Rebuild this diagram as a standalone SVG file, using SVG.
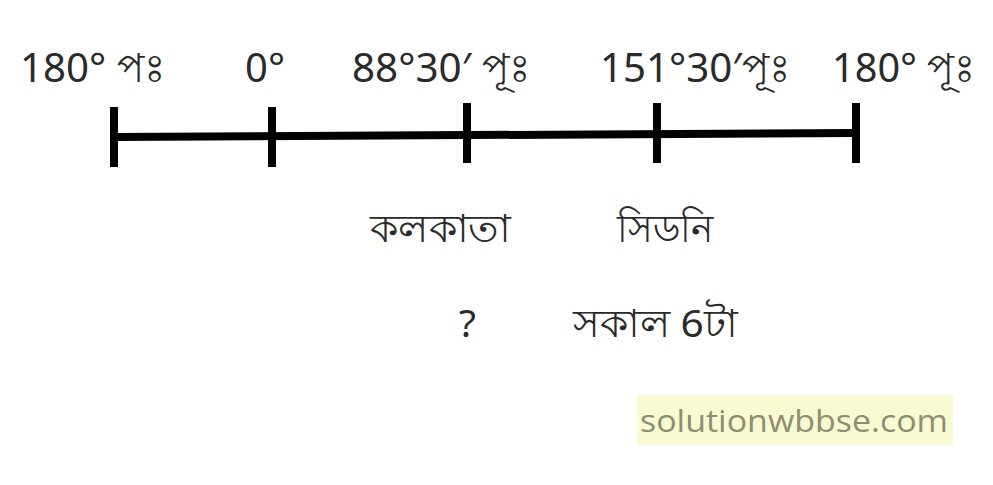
<svg xmlns="http://www.w3.org/2000/svg" width="993" height="485" viewBox="0 0 993 485">
<style>
.lbl{font-family:"Noto Sans","Open Sans",sans-serif;font-size:40px;fill:#2a2a2a}
.bn{font-family:"Noto Sans","Open Sans",sans-serif;font-size:39px;fill:#2a2a2a}
.axis{stroke:#000;stroke-width:8;fill:none;stroke-linecap:butt}
.wm{font-family:"Open Sans","Noto Sans",sans-serif;font-size:31px;fill:#8e8e72}
</style>
<rect width="993" height="485" fill="#fff"/>
<g id="connectors">
<line class="axis" x1="114" y1="137" x2="856" y2="133"/>
</g>
<g id="tick-180w"><line class="axis" x1="114" y1="107" x2="114" y2="167"/></g>
<g id="tick-0"><line class="axis" x1="272" y1="107" x2="272" y2="167"/></g>
<g id="tick-88"><line class="axis" x1="467" y1="103" x2="467" y2="163"/></g>
<g id="tick-151"><line class="axis" x1="657" y1="103" x2="657" y2="163"/></g>
<g id="tick-180e"><line class="axis" x1="856" y1="103" x2="856" y2="163"/></g>
<g id="label-180w"><text class="lbl" x="20" y="82" textLength="145" lengthAdjust="spacingAndGlyphs">180° পঃ</text></g>
<g id="label-0"><text class="lbl" x="245" y="82" textLength="40" lengthAdjust="spacingAndGlyphs">0°</text></g>
<g id="label-88"><text class="lbl" x="352" y="82" textLength="178" lengthAdjust="spacingAndGlyphs">88°30′ পূঃ</text></g>
<g id="label-151"><text class="lbl" x="600" y="82" textLength="190" lengthAdjust="spacingAndGlyphs">151°30′পূঃ</text></g>
<g id="label-180e"><text class="lbl" x="832" y="82" textLength="143" lengthAdjust="spacingAndGlyphs">180° পূঃ</text></g>
<g id="kolkata"><text class="bn" x="370" y="242" textLength="140" lengthAdjust="spacingAndGlyphs">কলকাতা</text></g>
<g id="sydney"><text class="bn" x="617" y="242" textLength="96" lengthAdjust="spacingAndGlyphs">সিডনি</text></g>
<g id="question"><text class="bn" x="459" y="337">?</text></g>
<g id="time"><text class="bn" x="573" y="337" textLength="164" lengthAdjust="spacingAndGlyphs">সকাল 6টা</text></g>
<g id="watermark">
<rect x="637" y="395" width="316" height="50" fill="#f9f9d2"/>
<text class="wm" x="640" y="432" textLength="308" lengthAdjust="spacingAndGlyphs">solutionwbbse.com</text>
</g>
</svg>
